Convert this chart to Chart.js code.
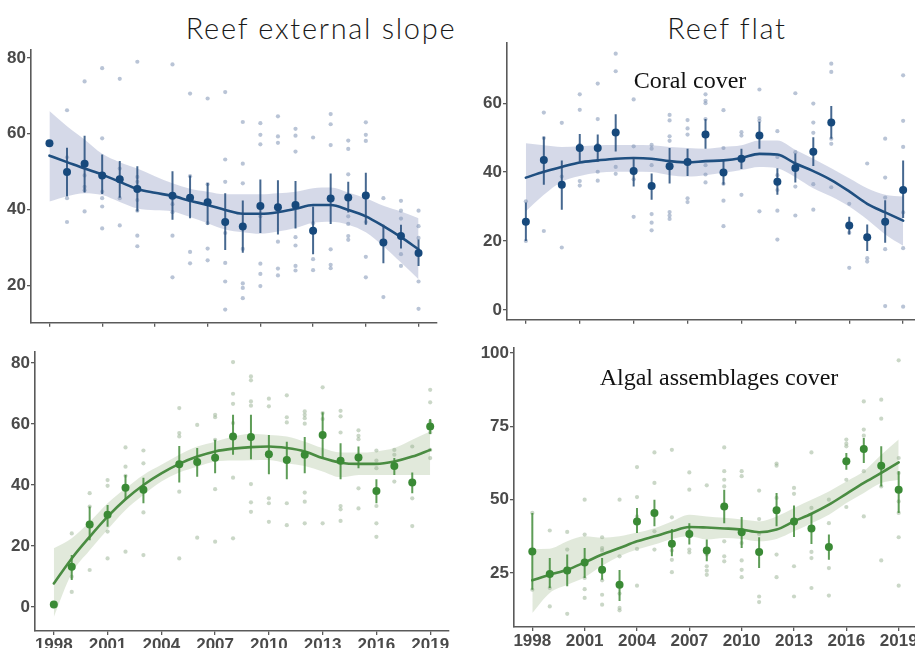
<!DOCTYPE html>
<html>
<head>
<meta charset="utf-8">
<script src="https://cdn.jsdelivr.net/npm/chart.js@4.4.1/dist/chart.umd.min.js"></script>
<style>
  html, body { margin: 0; padding: 0; background: #fff; }
  body { width: 915px; height: 648px; overflow: hidden; position: relative; }
  canvas { position: absolute; }
  .head { position: absolute; transform: translate(-50%, -50%); white-space: nowrap;
          font-family: Lato, "Open Sans", sans-serif; font-weight: 300; font-size: 29px; color: #1a1a1a; letter-spacing: 1.7px; }
  .sub { position: absolute; transform: translate(-50%, -50%); white-space: nowrap;
         font-family: "Liberation Serif", "DejaVu Serif", serif; font-size: 24px; color: #111; z-index: 2; }
</style>
</head>
<body>
<div class="head" style="left:321px; top:27px;">Reef external slope</div>
<div class="head" style="left:727px; top:27px;">Reef flat</div>
<div class="sub" style="left:690px; top:80px;">Coral cover</div>
<div class="sub" style="left:719px; top:377px;">Algal assemblages cover</div>

<canvas id="slopeCoral"></canvas>
<canvas id="flatCoral"></canvas>
<canvas id="slopeAlgae"></canvas>
<canvas id="flatAlgae"></canvas>

<script>
// ---- survey years and axis ticks ----
const years = [1998,1999,2000,2001,2002,2003,2004,2005,2006,2007,2008,2009,2010,2011,2012,2013,2014,2015,2016,2017,2018,2019];
const yearTicks = [1998,2001,2004,2007,2010,2013,2016,2019];
const yearsNo2004 = [1998,1999,2000,2001,2002,2003,2005,2006,2007,2008,2009,2010,2011,2012,2013,2014,2015,2016,2017,2018,2019];

// ---- reef external slope: coral cover (%) ----
const slopeCoralMean = [57.5,49.9,52.1,49.0,48.0,45.4,43.6,43.1,41.9,36.7,35.5,40.9,40.6,41.2,34.4,42.9,43.2,43.7,31.3,33.0,28.5];
const slopeCoralLow  = [null,43.5,44.5,44.1,43.1,39.5,37.3,37.7,36.0,29.3,28.6,33.8,33.4,35.0,28.2,36.2,39.2,36.0,25.8,29.7,25.1];
const slopeCoralHigh = [null,56.3,59.5,54.5,52.8,51.4,50.1,49.0,47.0,44.3,42.4,47.9,47.7,47.5,40.8,49.5,47.3,49.7,36.0,36.0,32.1];
const slopeCoralFit      = [54.2,52.5,50.8,49.2,47.3,45.4,44.4,43.6,42.3,41.2,39.9,38.9,38.9,39.3,40.2,41.2,41.2,39.9,38.2,35.6,32.7,29.5];
const slopeCoralFitUpper = [66.0,62.0,58.5,54.7,52.5,50.8,48.8,46.9,45.5,44.7,44.0,44.0,44.0,44.3,44.7,45.6,45.8,44.5,43.0,41.0,39.5,37.7];
const slopeCoralFitLower = [42.1,43.5,44.3,43.8,42.0,40.3,39.8,39.5,38.0,36.4,34.7,34.0,33.6,34.2,35.1,36.5,36.8,36.0,34.0,30.3,26.0,21.6];
const slopeCoralSites = [
  [1999,[66.2,53.8,43.0,36.7]], [2000,[73.8,49.0,46.0,45.1,39.5]], [2001,[77.3,58.8,44.7,43.0,40.8,35.0]],
  [2002,[74.5,50.8,43.0,35.8]], [2003,[79.0,48.6,47.3,42.5,39.7,33.1,30.3]], [2005,[78.3,41.4,39.3,33.1,22.1]],
  [2006,[70.6,48.8,28.8,25.8]], [2007,[69.3,46.7,36.4,29.7,26.6]], [2008,[71.0,53.2,47.3,33.8,25.9,21.0,13.6]],
  [2009,[63.1,52.1,46.9,29.6,20.5,19.3,16.6]], [2010,[62.8,59.7,57.2,38.2,25.7,23.0,19.8]], [2011,[64.6,59.3,57.6,31.5,24.4,22.6]],
  [2012,[61.3,59.5,55.3,32.7,30.5,25.1,23.9]], [2013,[59.0,36.4,26.9,24.0]], [2014,[65.2,62.5,57.0,29.5,25.4,24.5]],
  [2015,[58.2,56.0,49.3,38.2,36.2,33.0,32.0]], [2016,[63.0,59.7,58.1,36.7,27.5,22.1]], [2017,[43.0,16.9]],
  [2018,[42.3,39.7,37.6,28.2,25.1]], [2019,[39.7,35.6,32.5,21.0,13.8]]
];

// ---- reef flat: coral cover (%) ----
const flatCoralMean = [25.6,43.5,36.3,47.0,47.0,51.5,40.3,36.0,41.7,42.9,50.9,39.9,43.9,50.6,37.2,41.2,45.9,54.4,24.5,21.1,25.6,34.8];
const flatCoralLow  = [20.0,36.3,29.1,43.0,43.0,46.0,35.8,32.0,36.7,38.9,46.8,36.3,40.9,46.8,33.4,37.0,41.8,49.7,21.9,17.1,19.5,26.7];
const flatCoralHigh = [31.2,50.3,43.4,51.1,50.9,56.8,44.4,39.6,47.0,46.8,55.4,43.4,46.8,54.6,41.1,45.4,50.1,59.2,27.0,24.8,31.8,43.4];
const flatCoralFit      = [38.4,40.1,41.5,42.8,43.4,43.9,44.1,43.9,43.2,42.8,43.2,43.4,44.1,45.3,45.1,42.5,40.3,37.7,34.4,30.8,28.3,25.9];
const flatCoralFitUpper = [48.4,47.8,47.3,47.5,47.8,47.9,47.9,47.8,47.3,47.0,46.8,47.3,47.8,49.2,49.2,46.5,43.9,41.1,38.2,35.3,33.4,32.9];
const flatCoralFitLower = [28.6,33.4,37.2,38.9,39.8,40.1,40.1,40.0,39.1,38.7,39.1,39.8,40.6,41.5,41.1,38.5,35.3,32.9,30.0,26.2,21.9,18.6];
const flatCoralSites = [
  [1998,[31.5,20.0]], [1999,[57.3,49.9,22.9]], [2000,[54.3,38.7,18.1]], [2001,[62.6,58.1,47.9,37.4,36.1]],
  [2002,[65.7,55.4,47.9,40.1,37.5]], [2003,[74.4,69.3,41.5,39.5]], [2004,[61.1,47.5,37.9,27.0]],
  [2005,[47.9,46.8,42.0,27.8,25.3,23.1]], [2006,[56.6,55.0,50.4,49.1,28.4,27.4,26.4]], [2007,[55.1,52.7,50.9,32.4,31.3]],
  [2008,[62.6,60.7,60.0,55.4,42.0,39.3,37.0]], [2009,[58.0,47.0,36.6,31.7,24.3]], [2010,[51.6,50.6,33.4]],
  [2011,[64.0,55.7,54.9,28.6]], [2012,[51.9,44.4,39.1,34.8,28.8,20.4]], [2013,[62.9,45.8,35.8,27.4]],
  [2014,[59.9,54.4,51.4,36.5,29.1]], [2015,[71.5,69.1,49.7,48.2,35.6]], [2016,[30.8,22.4,12.2]],
  [2017,[42.5,15.0,14.0]], [2018,[49.7,38.4,32.6,17.6,1.1]], [2019,[68.1,54.9,47.3,28.3,17.9,0.9]]
];

// ---- reef external slope: algal assemblages cover (%) ----
const slopeAlgaeMean = [0.8,13.2,27.0,30.2,39.1,38.4,46.8,47.5,48.9,55.9,55.7,50.1,48.2,49.9,56.4,47.9,49.0,38.0,46.2,40.8,59.2];
const slopeAlgaeLow  = [null,8.8,21.9,26.3,35.3,34.0,40.8,42.7,43.8,49.9,48.4,43.5,41.9,43.8,48.8,41.9,45.5,34.0,43.3,37.3,56.7];
const slopeAlgaeHigh = [null,17.0,32.9,33.4,43.3,42.4,52.8,52.1,54.8,63.0,63.0,56.4,54.2,55.7,63.8,53.7,52.6,41.9,48.8,44.1,61.6];
const slopeAlgaeFit      = [7.7,15.9,23.0,29.6,35.3,40.0,43.8,46.9,49.3,51.0,51.9,52.4,52.6,52.1,51.0,48.8,47.3,46.9,46.9,47.7,49.3,51.5];
const slopeAlgaeFitUpper = [19.2,22.5,27.9,34.0,38.9,43.3,46.6,49.9,52.6,54.2,55.9,56.8,56.4,55.9,54.2,52.1,50.6,50.6,51.0,52.1,54.8,57.5];
const slopeAlgaeFitLower = [-3.3,11.0,18.6,25.4,31.8,36.7,41.1,44.1,46.0,47.7,48.0,48.1,48.2,47.1,46.2,44.4,42.5,43.3,43.3,43.3,43.3,43.3];
const slopeAlgaeSites = [
  [1999,[24.1,9.9,4.9]], [2000,[37.3,32.9,12.1]], [2001,[41.6,39.7,24.7,15.9]], [2002,[52.3,46.0,43.0,18.1]],
  [2003,[51.3,47.1,31.0,17.0]], [2005,[65.2,57.0,55.9,37.8,15.9]], [2006,[59.7,22.7]], [2007,[63.0,62.2,54.8,38.6,21.4]],
  [2008,[80.3,69.9,66.6,60.3,42.4,22.5]], [2009,[75.6,74.3,67.4,66.0,40.3,34.3,31.2]], [2010,[68.3,65.8,35.6,34.0,27.9]],
  [2011,[69.4,62.2,60.5,34.0,26.8]], [2012,[64.1,63.0,61.9,60.1,37.5,34.5,27.4]], [2013,[72.0,63.6,61.6,27.4]],
  [2014,[64.3,62.5,57.2,33.1,32.0,28.2]], [2015,[57.9,56.1,55.0,38.9,32.3]], [2016,[51.3,48.0,45.5,33.1,27.4,23.0]],
  [2017,[51.5,49.9,41.1]], [2018,[52.6,35.6,26.5]], [2019,[71.2,67.1,60.8,57.2,51.5,48.8]]
];

// ---- reef flat: algal assemblages cover (%) ----
const flatAlgaeMean = [32.3,24.7,25.9,28.6,26.1,21.0,42.6,45.5,35.0,38.3,32.7,47.7,38.9,32.2,46.4,42.6,40.2,33.9,63.1,67.3,61.6,53.4];
const flatAlgaeLow  = [19.3,19.9,20.5,23.3,22.7,15.5,38.6,40.9,30.7,34.7,29.0,42.0,33.5,26.7,40.9,37.3,34.9,29.5,60.2,62.5,54.5,45.5];
const flatAlgaeHigh = [45.5,30.1,31.3,33.5,30.1,26.0,47.2,50.0,40.0,42.0,36.4,53.4,44.1,37.2,52.3,48.0,45.5,38.1,65.9,71.0,68.2,59.7];
const flatAlgaeFit      = [22.5,24.4,26.1,28.6,31.3,33.5,35.8,37.5,39.2,40.7,40.5,40.2,39.8,38.9,39.8,42.6,45.2,48.3,52.0,55.7,59.1,62.7];
const flatAlgaeFitUpper = [33.2,33.3,35.8,37.5,37.0,37.5,38.8,40.3,42.6,44.9,44.3,43.8,43.2,42.6,44.3,47.2,50.0,52.8,56.2,59.7,65.3,70.5];
const flatAlgaeFitLower = [11.4,18.2,21.0,23.6,27.5,30.7,33.0,34.7,36.6,37.5,36.4,36.9,36.6,35.8,36.6,39.2,42.0,44.9,48.9,52.3,55.7,56.8];
const flatAlgaeSites = [
  [1998,[45.5,19.3]], [1999,[39.5,19.9,13.6]], [2000,[39.0,33.0,11.1]], [2001,[50.0,38.1,23.3,19.5,16.5]],
  [2002,[37.2,33.5,32.7,22.5,17.6,14.2]], [2003,[50.0,30.7,18.0,13.1,12.3]], [2004,[61.1,50.9,44.3,33.2,20.7]],
  [2005,[66.1,55.7,39.2,33.0]], [2006,[67.0,44.0,32.7,29.5,25.3]], [2007,[59.3,53.4,37.5,33.0,32.0]],
  [2008,[54.9,31.3,27.3,25.8,24.4]], [2009,[67.8,59.7,56.8,54.5,35.8,30.7,29.0]], [2010,[59.7,58.0,35.2,29.3,26.1,23.6]],
  [2011,[53.1,43.4,38.3,17.0,15.1]], [2012,[62.3,61.6,50.6,31.3,23.6]], [2013,[54.0,52.0,27.3,17.0]],
  [2014,[66.1,47.2,32.2,30.1,19.9]], [2015,[50.0,42.0,26.7,17.3]], [2016,[70.5,69.1,68.2,56.8,47.5]],
  [2017,[83.5,73.9,71.8,59.7,44.3]], [2018,[84.1,77.6,54.5,29.3]], [2019,[97.5,64.2,59.1,49.4,45.5,37.2,20.7]]
];

// ---- colour themes ----
const blueTheme  = { mean: '#17497c', line: '#1f4f80', err: 'rgba(38,78,125,0.85)',
                     site: 'rgba(128,148,180,0.55)', band: 'rgba(178,186,214,0.55)' };
const greenTheme = { mean: '#3a8a35', line: '#4a8c42', err: 'rgba(66,140,58,0.85)',
                     site: 'rgba(150,176,144,0.5)', band: 'rgba(196,212,184,0.5)' };

const axisGrey = '#5a5a5a';
const tickFont = { family: '"Liberation Sans", Arial, sans-serif', size: 17, weight: 'bold' };

Chart.defaults.animation = false;
Chart.defaults.devicePixelRatio = 1;

function pairs(xs, ys) { return xs.map((x, i) => ({ x: x, y: ys[i] })); }

function errorSegments(xs, lo, hi) {
  const out = [];
  xs.forEach((x, i) => {
    if (lo[i] == null) return;
    out.push({ x: x, y: lo[i] }, { x: x, y: hi[i] }, { x: x, y: null });
  });
  return out;
}

function sitePoints(sites) {
  const out = [];
  sites.forEach(([yr, vals]) => vals.forEach(v => out.push({ x: yr, y: v })));
  return out;
}

function drawPanel(id, box, s) {
  const PT = 12, PR = 24;
  const YW = Math.min(44, box.l);
  const XH = s.showYears ? 24 : 8;
  const cv = document.getElementById(id);
  cv.width = YW + (box.r - box.l) + PR;
  cv.height = PT + (box.b - box.t) + XH;
  cv.style.left = (box.l - YW) + 'px';
  cv.style.top = (box.t - PT) + 'px';

  const smooth = { showLine: true, pointRadius: 0, cubicInterpolationMode: 'monotone', borderWidth: 0 };

  new Chart(cv, {
    type: 'scatter',
    data: {
      datasets: [
        { ...smooth, data: pairs(years, s.upper), borderColor: 'transparent', fill: false, order: 6 },
        { ...smooth, data: pairs(years, s.lower), borderColor: 'transparent',
          fill: { target: 0 }, backgroundColor: s.theme.band, order: 5 },
        { data: sitePoints(s.sites), pointRadius: 2.1, pointBackgroundColor: s.theme.site,
          pointBorderWidth: 0, order: 4 },
        { ...smooth, data: pairs(years, s.fit), borderColor: s.theme.line, borderWidth: 2.6,
          borderCapStyle: 'round', fill: false, order: 2 },
        { showLine: true, spanGaps: false, pointRadius: 0, data: errorSegments(s.meanYears, s.low, s.high),
          borderColor: s.theme.err, borderWidth: 2, fill: false, order: 1 },
        { data: pairs(s.meanYears, s.mean), pointRadius: 4, pointBackgroundColor: s.theme.mean,
          pointBorderWidth: 0, order: 0 }
      ]
    },
    options: {
      responsive: false,
      animation: false,
      events: [],
      layout: { padding: { top: PT, right: PR, left: 0, bottom: 0 } },
      plugins: { legend: { display: false }, tooltip: { enabled: false } },
      scales: {
        x: {
          type: 'linear', min: 1996.95, max: 2020.05,
          afterBuildTicks: ax => { ax.ticks = yearTicks.map(v => ({ value: v })); },
          afterFit: ax => { ax.height = XH; },
          ticks: { font: tickFont, color: s.showYears ? '#4a4a4a' : 'rgba(0,0,0,0)', padding: 0,
                   maxRotation: 0, autoSkip: false, callback: v => String(v) },
          grid: { display: true, drawOnChartArea: false, drawTicks: true, tickLength: 4,
                  color: axisGrey, lineWidth: 1.3 },
          border: { display: true, color: axisGrey, width: 1.6 }
        },
        y: {
          type: 'linear', min: s.yMin, max: s.yMax,
          afterBuildTicks: ax => { ax.ticks = s.yTicks.map(v => ({ value: v })); },
          afterFit: ax => { ax.width = YW; },
          ticks: { font: tickFont, color: '#4a4a4a', padding: 1, callback: v => String(v) },
          grid: { display: true, drawOnChartArea: false, drawTicks: true, tickLength: 4,
                  color: axisGrey, lineWidth: 1.3 },
          border: { display: true, color: axisGrey, width: 1.6 }
        }
      }
    }
  });
}

drawPanel('slopeCoral', { l: 31, t: 50, r: 437, b: 326 }, {
  theme: blueTheme, showYears: false, yMin: 10.1, yMax: 82.1, yTicks: [20, 40, 60, 80],
  meanYears: yearsNo2004, mean: slopeCoralMean, low: slopeCoralLow, high: slopeCoralHigh,
  fit: slopeCoralFit, upper: slopeCoralFitUpper, lower: slopeCoralFitLower, sites: slopeCoralSites
});

drawPanel('flatCoral', { l: 507, t: 43, r: 922, b: 323 }, {
  theme: blueTheme, showYears: false, yMin: -2.9, yMax: 77.5, yTicks: [0, 20, 40, 60],
  meanYears: years, mean: flatCoralMean, low: flatCoralLow, high: flatCoralHigh,
  fit: flatCoralFit, upper: flatCoralFitUpper, lower: flatCoralFitLower, sites: flatCoralSites
});

drawPanel('slopeAlgae', { l: 35, t: 352, r: 449, b: 631 }, {
  theme: greenTheme, showYears: true, yMin: -7.9, yMax: 83.6, yTicks: [0, 20, 40, 60, 80],
  meanYears: yearsNo2004, mean: slopeAlgaeMean, low: slopeAlgaeLow, high: slopeAlgaeHigh,
  fit: slopeAlgaeFit, upper: slopeAlgaeFitUpper, lower: slopeAlgaeFitLower, sites: slopeAlgaeSites
});

drawPanel('flatAlgae', { l: 514, t: 348, r: 917, b: 627 }, {
  theme: greenTheme, showYears: true, yMin: 6.6, yMax: 101.7, yTicks: [25, 50, 75, 100],
  meanYears: years, mean: flatAlgaeMean, low: flatAlgaeLow, high: flatAlgaeHigh,
  fit: flatAlgaeFit, upper: flatAlgaeFitUpper, lower: flatAlgaeFitLower, sites: flatAlgaeSites
});
</script>
</body>
</html>
